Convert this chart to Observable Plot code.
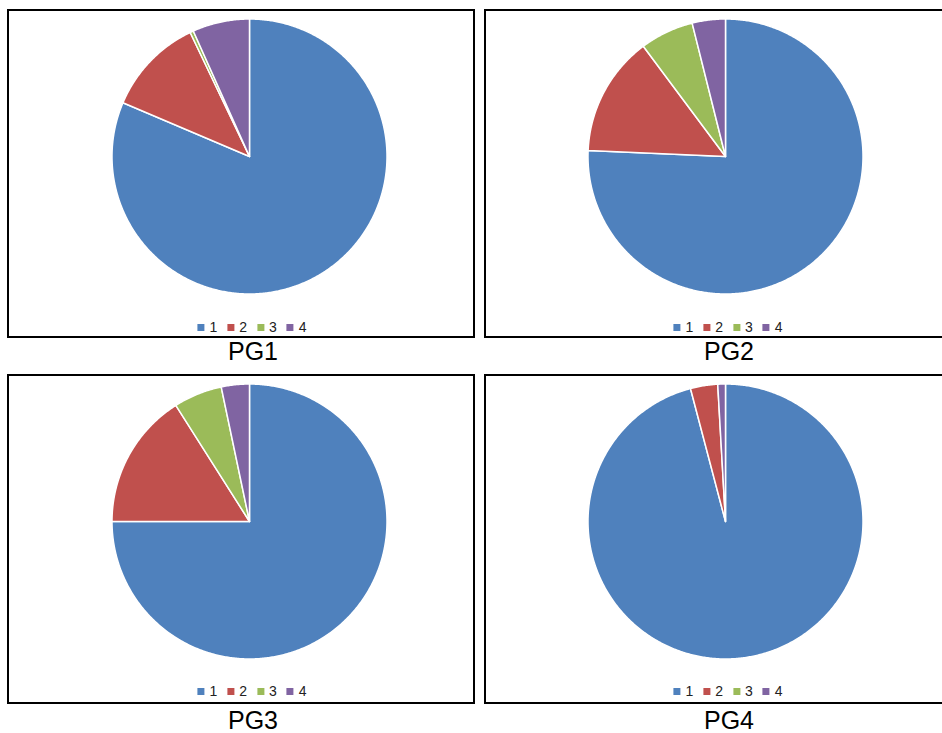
<!DOCTYPE html>
<html>
<head>
<meta charset="utf-8">
<script src="https://cdn.jsdelivr.net/npm/d3@7"></script>
<script src="https://cdn.jsdelivr.net/npm/@observablehq/plot@0.6"></script>
<style>
  html, body { margin: 0; padding: 0; background: #fff; }
  body { width: 942px; height: 733px; position: relative; overflow: hidden; font-family: "Liberation Sans", Arial, sans-serif; }
  .box { position: absolute; box-sizing: border-box; border: 2px solid #000; background: #fff; }
  .pie { position: absolute; }
  .legend { position: absolute; font-size: 14px; color: #222; white-space: nowrap; transform: translateX(-50%); line-height: 14px; }
  .legend span.item { display: inline-block; margin: 0 5px; }
  .legend span.sw { display: inline-block; width: 7px; height: 7px; margin-right: 5px; vertical-align: 1px; }
  .label { position: absolute; font-size: 25px; line-height: 25px; color: #000; transform: translateX(-50%); }
</style>
</head>
<body>
<script>
// ---- data ----
const panels = ["PG1", "PG2", "PG3", "PG4"];
const categories = ["1", "2", "3", "4"];
const colors = ["#4F81BD", "#C0504D", "#9BBB59", "#8064A2"];
const pg1 = [81.4, 11.5, 0.4, 6.7];
const pg2 = [75.7, 14.1, 6.3, 3.9];
const pg3 = [75.0, 16.0, 5.7, 3.3];
const pg4 = [95.9, 3.2, 0.0, 0.9];
const seriesValues = [pg1, pg2, pg3, pg4];

// ---- layout ----
const layout = [
  {box: [7, 9, 468, 329], cx: 249, cy: 156, lx: 252, ly: 320, tx: 253, ty: 339},
  {box: [484, 9, 470, 329], cx: 725, cy: 156, lx: 728, ly: 320, tx: 729, ty: 339},
  {box: [7, 374, 468, 330], cx: 249, cy: 521, lx: 252, ly: 684, tx: 253, ty: 708},
  {box: [484, 374, 470, 330], cx: 725, cy: 521, lx: 728, ly: 684, tx: 729, ty: 708}
];
const R = 137.5;
const S = 290;

function slicePolys(values) {
  const pie = d3.pie().sort(null).startAngle(0).endAngle(2 * Math.PI)(values);
  const rows = [];
  pie.forEach((p, i) => {
    if (p.endAngle - p.startAngle <= 0) return;
    const cat = categories[i];
    rows.push({slice: cat, x: 0, y: 0});
    const n = Math.max(2, Math.ceil((p.endAngle - p.startAngle) / (Math.PI / 360)));
    for (let k = 0; k <= n; k++) {
      const a = p.startAngle + (p.endAngle - p.startAngle) * k / n;
      rows.push({slice: cat, x: Math.sin(a), y: Math.cos(a)});
    }
    rows.push({slice: cat, x: 0, y: 0});
  });
  return rows;
}

panels.forEach((name, idx) => {
  const L = layout[idx];
  const box = document.createElement("div");
  box.className = "box";
  box.style.left = L.box[0] + "px";
  box.style.top = L.box[1] + "px";
  box.style.width = L.box[2] + "px";
  box.style.height = L.box[3] + "px";
  document.body.appendChild(box);

  const half = (S / 2) / R;
  const svg = Plot.plot({
    width: S, height: S,
    margin: 0,
    x: {domain: [-half, half], axis: null},
    y: {domain: [-half, half], axis: null},
    color: {domain: categories, range: colors},
    marks: [
      Plot.line(slicePolys(seriesValues[idx]), {
        x: "x", y: "y", z: "slice", fill: "slice",
        stroke: "white", strokeWidth: 1.5, strokeLinejoin: "round", curve: "linear"
      })
    ]
  });
  svg.classList.add("pie");
  svg.style.left = (L.cx - S / 2) + "px";
  svg.style.top = (L.cy - S / 2) + "px";
  svg.style.background = "transparent";
  document.body.appendChild(svg);

  const leg = document.createElement("div");
  leg.className = "legend";
  leg.style.left = L.lx + "px";
  leg.style.top = L.ly + "px";
  leg.innerHTML = categories.map((c, i) =>
    `<span class="item"><span class="sw" style="background:${colors[i]}"></span>${c}</span>`).join("");
  document.body.appendChild(leg);

  const lab = document.createElement("div");
  lab.className = "label";
  lab.style.left = L.tx + "px";
  lab.style.top = L.ty + "px";
  lab.textContent = name;
  document.body.appendChild(lab);
});
</script>
</body>
</html>
